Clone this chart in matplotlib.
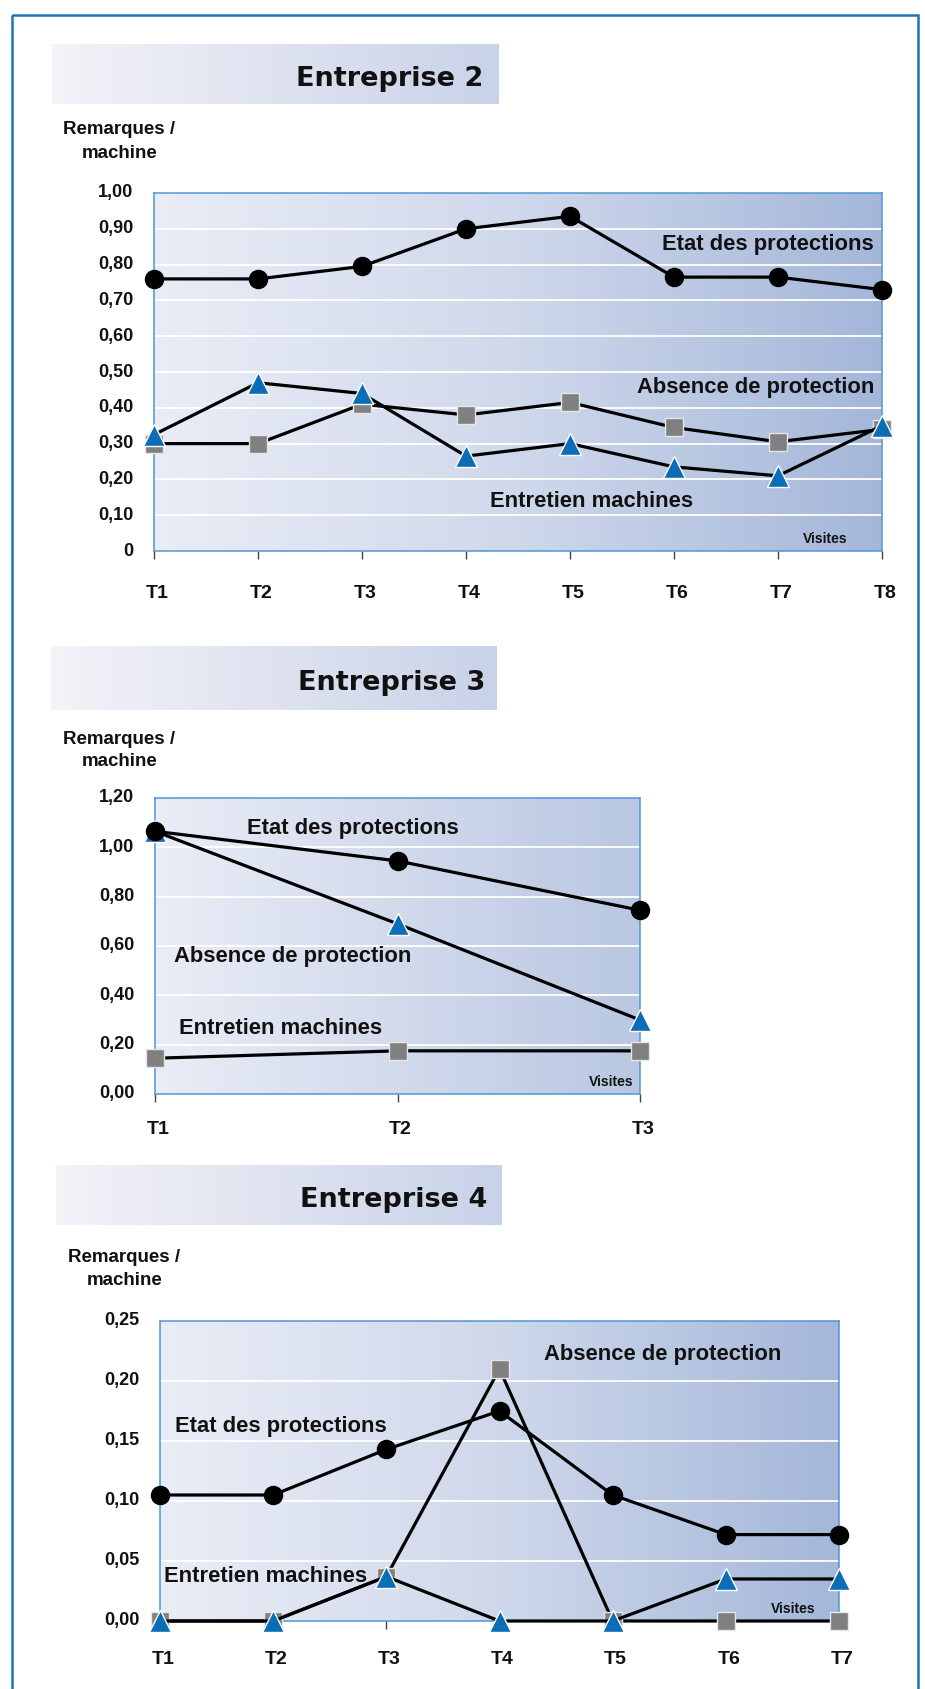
import matplotlib
matplotlib.use("Agg")
import matplotlib.pyplot as plt
import numpy as np
from matplotlib.colors import LinearSegmentedColormap
from matplotlib.patches import Rectangle
from matplotlib.transforms import ScaledTranslation

plt.rcParams['font.family'] = ['Liberation Sans', 'DejaVu Sans']

# ---------------- data ----------------
e2_visits = ['T1', 'T2', 'T3', 'T4', 'T5', 'T6', 'T7', 'T8']
e2_etat = [0.76, 0.76, 0.795, 0.90, 0.935, 0.765, 0.765, 0.73]
e2_triangles = [0.325, 0.47, 0.44, 0.265, 0.30, 0.235, 0.21, 0.35]
e2_squares = [0.30, 0.30, 0.41, 0.38, 0.415, 0.345, 0.305, 0.34]
e2_yticks = [0, 0.1, 0.2, 0.3, 0.4, 0.5, 0.6, 0.7, 0.8, 0.9, 1.0]
e2_ylabels = ['0', '0,10', '0,20', '0,30', '0,40', '0,50', '0,60', '0,70', '0,80', '0,90', '1,00']

e3_visits = ['T1', 'T2', 'T3']
e3_etat = [1.065, 0.945, 0.745]
e3_triangles = [1.065, 0.69, 0.30]
e3_squares = [0.145, 0.175, 0.175]
e3_yticks = [0, 0.2, 0.4, 0.6, 0.8, 1.0, 1.2]
e3_ylabels = ['0,00', '0,20', '0,40', '0,60', '0,80', '1,00', '1,20']

e4_visits = ['T1', 'T2', 'T3', 'T4', 'T5', 'T6', 'T7']
e4_etat = [0.105, 0.105, 0.143, 0.175, 0.105, 0.072, 0.072]
e4_triangles = [0.0, 0.0, 0.037, 0.0, 0.0, 0.035, 0.035]
e4_squares = [0.0, 0.0, 0.037, 0.21, 0.0, 0.0, 0.0]
e4_yticks = [0, 0.05, 0.10, 0.15, 0.20, 0.25]
e4_ylabels = ['0,00', '0,05', '0,10', '0,15', '0,20', '0,25']

titles = ['Entreprise 2', 'Entreprise 3', 'Entreprise 4']
lbl_etat = 'Etat des protections'
lbl_abs = 'Absence de protection'
lbl_ent = 'Entretien machines'

# ---------------- layout helpers ----------------
W, H = 925, 1690
fig = plt.figure(figsize=(W / 100, H / 100), dpi=100)
fig.patch.set_facecolor('white')


def rect(x0, y0, x1, y1):
    return [x0 / W, 1 - y1 / H, (x1 - x0) / W, (y1 - y0) / H]


# page frame
frame_ax = fig.add_axes([0, 0, 1, 1])
frame_ax.set_xlim(0, W)
frame_ax.set_ylim(H, 0)
frame_ax.axis('off')
frame_ax.add_patch(Rectangle((12, 16), 906, H + 20, fill=False,
                             edgecolor='#1f74b8', lw=1.8))

bg_cmap = LinearSegmentedColormap.from_list('bg', ['#eaedf6', '#cfd8eb', '#a4b7d9'])
bg_cmap3 = LinearSegmentedColormap.from_list('bg3', ['#eaedf6', '#d2daec', '#b9c7e2'])
title_cmap = LinearSegmentedColormap.from_list('tb', ['#f3f3f8', '#dfe3f0', '#c8d2e8'])
grad = np.linspace(0, 1, 256).reshape(1, -1)


def title_box(x0, y0, x1, y1, text, text_right):
    ax = fig.add_axes(rect(x0, y0, x1, y1))
    ax.imshow(grad, cmap=title_cmap, aspect='auto', extent=[0, 1, 0, 1])
    ax.set_xlim(0, 1)
    ax.set_ylim(0, 1)
    ax.axis('off')
    fx = (text_right - x0) / (x1 - x0)
    ax.text(fx, 0.44, text, ha='right', va='center', fontsize=19.5,
            fontweight='bold', color='#111111', family=['DejaVu Sans'])


def ylab(xc, y1, y2):
    fig.text(xc / W, 1 - y1 / H, 'Remarques /', ha='center', va='center',
             fontsize=13.5, fontweight='bold', color='#111111')
    fig.text((xc + 1) / W, 1 - y2 / H, 'machine', ha='center', va='center',
             fontsize=13.5, fontweight='bold', color='#111111')


def chart(box, visits, etat, tri, sq, yticks, ylabels, ymax, cmap, xpad):
    ax = fig.add_axes(rect(*box))
    n = len(visits)
    xs = np.arange(n)
    ax.set_xlim(0, n - 1)
    ax.set_ylim(0, ymax)
    ax.imshow(grad, cmap=cmap, aspect='auto', extent=[0, 1, 0, 1],
              transform=ax.transAxes, zorder=0)
    for t in yticks[1:]:
        if t < ymax - 1e-9:
            ax.axhline(t, color='white', lw=1.3, zorder=1)
    for s in ax.spines.values():
        s.set_color('#4c98d6')
        s.set_linewidth(1.1)
    ax.set_yticks(yticks)
    ax.set_yticklabels(ylabels)
    ax.set_xticks(xs)
    ax.set_xticklabels(visits)
    ax.tick_params(axis='y', length=0, pad=15, labelsize=13, labelcolor='#111111')
    ax.tick_params(axis='x', length=6, width=1, color='#444444', pad=xpad,
                   labelsize=14, labelcolor='#111111')
    for lab in ax.get_yticklabels() + ax.get_xticklabels():
        lab.set_fontweight('bold')
    off = ScaledTranslation(0, 3 / 100, fig.dpi_scale_trans)
    for lab in ax.get_yticklabels():
        lab.set_transform(lab.get_transform() + off)
    xoff = ScaledTranslation(3 / 100, 0, fig.dpi_scale_trans)
    for lab in ax.get_xticklabels():
        lab.set_transform(lab.get_transform() + xoff)
    ax.plot(xs, sq, color='black', lw=2.3, marker='s', ms=13,
            mfc='#808080', mec='#e6e6e6', mew=1, zorder=3, clip_on=False)
    ax.plot(xs, tri, color='black', lw=2.3, marker='^', ms=16,
            mfc='#0b6db5', mec='white', mew=1, zorder=4, clip_on=False)
    ax.plot(xs, etat, color='black', lw=2.3, marker='o', ms=13,
            mfc='black', mec='black', zorder=5, clip_on=False)
    return ax


lab_kw = dict(fontsize=15.8, fontweight='bold', color='#111111', va='center', zorder=6)
vis_kw = dict(fontsize=10, fontweight='bold', color='#111111', va='center', zorder=6)

# ---- Entreprise 2 ----
title_box(52, 45, 498, 105, titles[0], 483)
ylab(119, 130, 154)
ax2 = chart((154, 194, 882, 552), e2_visits, e2_etat, e2_triangles, e2_squares,
            e2_yticks, e2_ylabels, 1.0, bg_cmap, 18)
ax2.text(6.92, 0.86, lbl_etat, ha='right', **lab_kw)
ax2.text(6.93, 0.46, lbl_abs, ha='right', **lab_kw)
ax2.text(4.21, 0.14, lbl_ent, ha='center', **lab_kw)
ax2.text(6.67, 0.035, 'Visites', ha='right', **vis_kw)

# ---- Entreprise 3 ----
title_box(51, 647, 496, 711, titles[1], 485)
ylab(119, 740, 762)
ax3 = chart((155, 799, 640, 1095), e3_visits, e3_etat, e3_triangles, e3_squares,
            e3_yticks, e3_ylabels, 1.2, bg_cmap3, 13)
ax3.text(0.38, 1.08, lbl_etat, ha='left', **lab_kw)
ax3.text(0.08, 0.56, lbl_abs, ha='left', **lab_kw)
ax3.text(0.10, 0.27, lbl_ent, ha='left', **lab_kw)
ax3.text(1.975, 0.053, 'Visites', ha='right', **vis_kw)

# ---- Entreprise 4 ----
title_box(56, 1166, 502, 1226, titles[2], 487)
ylab(124, 1258, 1281)
ax4 = chart((160, 1322, 839, 1622), e4_visits, e4_etat, e4_triangles, e4_squares,
            e4_yticks, e4_ylabels, 0.25, bg_cmap, 15)
ax4.text(3.39, 0.223, lbl_abs, ha='left', **lab_kw)
ax4.text(0.13, 0.1625, lbl_etat, ha='left', **lab_kw)
ax4.text(0.035, 0.038, lbl_ent, ha='left', **lab_kw)
ax4.text(5.79, 0.011, 'Visites', ha='right', **vis_kw)

fig.savefig('out.png', dpi=100, facecolor='white')
